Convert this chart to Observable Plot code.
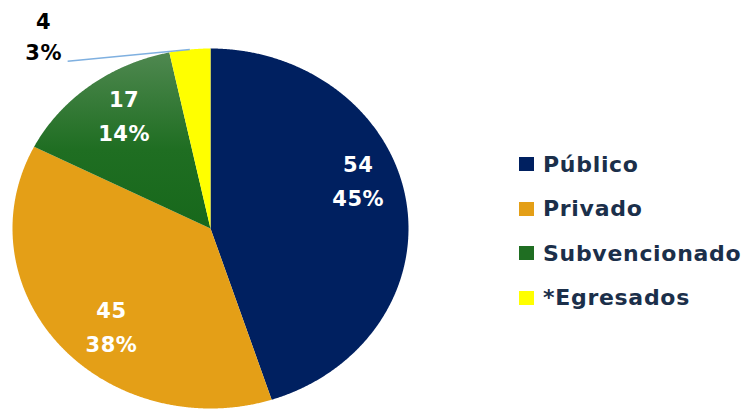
<!DOCTYPE html>
<html>
<head>
<meta charset="utf-8">
<script src="https://cdn.jsdelivr.net/npm/d3@7"></script>
<script src="https://cdn.jsdelivr.net/npm/@observablehq/plot@0.6"></script>
<style>
  html, body { margin: 0; padding: 0; background: #fff; }
  #wrap { position: relative; width: 746px; height: 409px; overflow: hidden; }
  #wrap svg text { letter-spacing: 0.5px; }
  #legend { position: absolute; left: 519px; top: 142px; font-family: "DejaVu Sans", sans-serif; font-weight: bold; font-size: 22px; color: #1b2f4a; letter-spacing: 0.7px; }
  .item { display: flex; align-items: center; height: 44.5px; }
  .sw { width: 15px; height: 14px; margin-right: 9px; }
</style>
</head>
<body>
<div id="wrap"><div id="legend"></div></div>
<script>
const categories = ["Público", "Privado", "Subvencionado", "*Egresados"];
const values = [54, 45, 17, 4];
const percentLabels = ["45%", "38%", "14%", "3%"];
const colors = ["#002060", "#E49F17", "url(#greenGrad)", "#FFFF00"];
const legendColors = ["#002060", "#E49F17", "#1f6e22", "#FFFF00"];
const labelColors = ["white", "white", "white", "black"];

const pie = d3.pie().sort(null).value(d => d)(values);

// slice outlines in unit coordinates (angle 0 at 12 o'clock, clockwise)
const slicePts = [];
pie.forEach((a, i) => {
  slicePts.push({cat: categories[i], fill: colors[i], x: 0, y: 0});
  const n = Math.max(4, Math.ceil((a.endAngle - a.startAngle) / 0.005));
  for (let k = 0; k <= n; k++) {
    const t = a.startAngle + (a.endAngle - a.startAngle) * k / n;
    slicePts.push({cat: categories[i], fill: colors[i], x: Math.sin(t), y: Math.cos(t)});
  }
});

// label placement: centroid at 0.75 radius, with small nudges like the original layout
const labelR = 0.75;
const nudge = [[0.005, 0.12], [0.07, -0.09], [0.02, 0]];
const inner = pie.slice(0, 3).map((a, i) => {
  const m = (a.startAngle + a.endAngle) / 2;
  return {x: labelR * Math.sin(m) + nudge[i][0], y: labelR * Math.cos(m) + nudge[i][1], text: values[i] + "\n" + percentLabels[i], color: labelColors[i]};
});
const eg = pie[3];
const egMid = (eg.startAngle + eg.endAngle) / 2;
const leader = [{x1: Math.sin(egMid), y1: Math.cos(egMid), x2: Math.sin(egMid) - 0.617, y2: Math.cos(egMid) - 0.066}];
const outer = [{x: leader[0].x2, y: leader[0].y2, text: values[3] + "\n" + percentLabels[3]}];

const plot = Plot.plot({
  width: 746,
  height: 409,
  margin: 0,
  x: {domain: [-1, 1], range: [12, 408], axis: null},
  y: {domain: [-1, 1], range: [408, 48], axis: null},
  color: {type: "identity"},
  marks: [
    Plot.line(slicePts, {x: "x", y: "y", z: "cat", fill: "fill", stroke: "none", curve: "linear-closed"}),
    Plot.text(inner, {x: "x", y: "y", text: "text", fill: "color", fontSize: 21, fontWeight: "bold", lineHeight: 1.62, fontFamily: "DejaVu Sans, sans-serif", dy: -8}),
    Plot.link(leader, {x1: "x1", y1: "y1", x2: "x2", y2: "y2", stroke: "#7fb0e0", strokeWidth: 1.5}),
    Plot.text(outer, {x: "x", y: "y", text: "text", fill: "black", fontSize: 21, fontWeight: "bold", lineHeight: 1.5, fontFamily: "DejaVu Sans, sans-serif", textAnchor: "middle", lineAnchor: "bottom", dx: -24, dy: -1})
  ]
});

const svg = d3.select(plot);
const defs = svg.insert("defs", ":first-child");
const g = defs.append("linearGradient").attr("id", "greenGrad").attr("x1", 0).attr("y1", 0).attr("x2", 0).attr("y2", 1);
g.append("stop").attr("offset", "0%").attr("stop-color", "#4f8850");
g.append("stop").attr("offset", "55%").attr("stop-color", "#1f6e22");
g.append("stop").attr("offset", "100%").attr("stop-color", "#17681b");

document.getElementById("wrap").prepend(plot);

const legend = d3.select("#legend");
categories.forEach((c, i) => {
  const it = legend.append("div").attr("class", "item");
  it.append("div").attr("class", "sw").style("background", legendColors[i]);
  it.append("span").text(c);
});
</script>
</body>
</html>
